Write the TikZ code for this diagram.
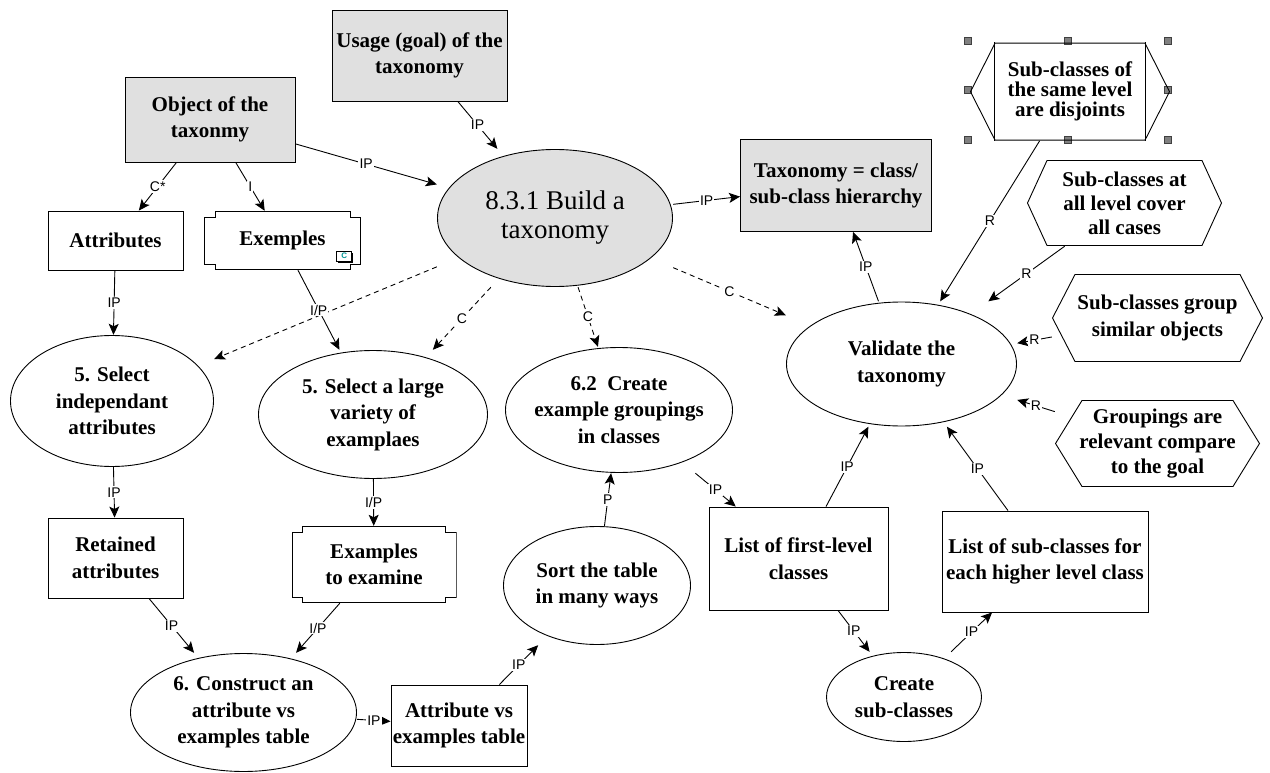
\documentclass[tikz,border=0pt]{standalone}
\usepackage{fontspec}
\setmainfont{Liberation Serif}
\setsansfont{Liberation Sans}
\usetikzlibrary{arrows.meta,calc,shadows,backgrounds}

\definecolor{fillgray}{RGB}{224,224,224}
\definecolor{handlegray}{RGB}{128,128,128}
\definecolor{icontext}{RGB}{0,150,150}

\tikzset{
  pen/.style={line width=0.9pt},
  txt/.style={rectangle, inner sep=0pt, align=center,
    font=\fontsize{21}{26.5}\selectfont\bfseries},
  sz/.style 2 args={minimum width=#1, minimum height=#2},
  rbox/.style={txt, draw, pen},
  gbox/.style={rbox, fill=fillgray},
  % ellipse inscribed in the node's rectangle (links stop at the rectangle)
  oval/.style={txt, path picture={
    \draw[pen, fill=#1] let \p1=(path picture bounding box.north east),
      \p2=(path picture bounding box.center) in
      (\p2) ellipse [x radius=\x1-\x2-0.5pt, y radius=\y1-\y2-0.5pt];}},
  oval/.default=white,
  % hexagon inscribed in the node's rectangle
  hexa/.style={txt, path picture={
    \draw[pen] let \p1=(path picture bounding box.north east),
      \p2=(path picture bounding box.south west),
      \p3=(path picture bounding box.center) in
      (\x2+0.5pt,\y3) -- (\x2+#1,\y1-0.5pt) -- (\x1-#1,\y1-0.5pt) --
      (\x1-0.5pt,\y3) -- (\x1-#1,\y2+0.5pt) -- (\x2+#1,\y2+0.5pt) -- cycle;}},
  hexa/.default=23pt,
  % rectangle with square notches cut out of its corners
  notched/.style={txt, path picture={
    \draw[pen] let \p1=(path picture bounding box.north east),
      \p2=(path picture bounding box.south west) in
      (\x2+11pt,\y1-0.5pt) -- (\x1-11pt,\y1-0.5pt) -- (\x1-11pt,\y1-6pt) --
      (\x1-0.5pt,\y1-6pt) -- (\x1-0.5pt,\y2+6pt) -- (\x1-11pt,\y2+6pt) --
      (\x1-11pt,\y2+0.5pt) -- (\x2+11pt,\y2+0.5pt) -- (\x2+11pt,\y2+6pt) --
      (\x2+0.5pt,\y2+6pt) -- (\x2+0.5pt,\y1-6pt) -- (\x2+11pt,\y1-6pt) -- cycle;}},
  link/.style={pen, -{Stealth[length=11pt,width=10pt,inset=2.5pt]}},
  dlink/.style={link, dash pattern=on 5pt off 4pt},
  lbl/.style={fill=white, inner sep=1.2pt, font=\sffamily\fontsize{14}{14}\selectfont},
  handle/.style={rectangle, draw=black!75, fill=handlegray, line width=0.6pt,
    minimum size=7pt, inner sep=0pt},
  icon/.style={rectangle, draw, fill=white, line width=0.6pt, inner sep=0pt,
    minimum width=15pt, minimum height=10pt, text=icontext,
    font=\sffamily\bfseries\fontsize{8}{8}\selectfont,
    drop shadow={shadow xshift=1.5pt, shadow yshift=-1.5pt, fill=black, opacity=1}},
}

\begin{document}
\begin{tikzpicture}[x=1pt, y=-1pt]
\useasboundingbox (0,0) rectangle (1270,773);

% ---- nodes ----
\node[gbox, sz={175}{91}] (usage) at (419.5,55.5) {Usage (goal) of the\\taxonomy};
\node[gbox, sz={170}{85}] (object) at (210,119.5) {Object of the\\taxonmy};
\node[rbox, sz={135}{59}] (attributes) at (115.5,240.5) {Attributes};
\node[notched, sz={157}{59}] (exemples) at (282.5,240.5) {Exemples};
\node[icon] (exicon) at ($(exemples.south east)+(-17,-14)$) {C};
\node[oval=fillgray, sz={236}{138}, font=\fontsize{27}{29}\selectfont\mdseries]
  (build) at (555,218) {8.3.1 Build a\\taxonomy};
\node[gbox, sz={191}{92}] (taxonomy) at (836,185.5) {Taxonomy = class/\\sub-class hierarchy};

\node[hexa=25pt, sz={200}{98}, font=\fontsize{21}{20}\selectfont\bfseries]
  (hex1) at (1070,91.7) {Sub-classes of\\the same level\\are disjoints};
\draw[pen] ($(hex1.north west)+(25,0)$) -- ($(hex1.south west)+(25,0)$);
\draw[pen] ($(hex1.north east)+(-25,0)$) -- ($(hex1.south east)+(-25,0)$);
\begin{scope}[on background layer]
  \foreach \a/\b in {north west/hnw, north/hn, north east/hne, west/hw,
                     east/he, south west/hsw, south/hs, south east/hse}
    \node[handle] (\b) at ($(hex1.\a)+(-2,-1.5)$) {};
\end{scope}
\node[hexa=20pt, sz={195}{86}, font=\fontsize{21}{24}\selectfont\bfseries]
  (hex2) at (1124.5,203) {Sub-classes at\\all level cover\\all cases};
\node[hexa=23pt, sz={211}{88}] (hex3) at (1157.5,318) {Sub-classes group\\similar objects};
\node[hexa=27pt, sz={205}{87}, font=\fontsize{21}{25}\selectfont\bfseries]
  (hex4) at (1157.5,443.5) {Groupings are\\relevant compare\\to the goal};

\node[oval, sz={231}{125}] (validate) at (901.5,364) {Validate the\\taxonomy};
\node[oval, sz={204}{132}] (selind) at (112,401) {5. Select\\independant\\attributes};
\node[oval, sz={230}{129}] (sellarge) at (373,414.5) {5. Select a large\\variety of\\examplaes};
\node[oval, sz={228}{126}] (create62) at (619,410) {6.2~~Create\\example groupings\\in classes};

\node[rbox, sz={135}{80}] (retained) at (115.5,558) {Retained\\attributes};
\node[notched, sz={165}{77}] (toexamine) at (374,564.5) {Examples\\to examine};
\node[oval, sz={188}{119}] (sort) at (597,585.5) {Sort the table\\in many ways};
\node[rbox, sz={179}{103}] (listfirst) at (798.5,558.5) {List of first-level\\classes};
\node[rbox, sz={206}{101}] (listsub) at (1045,561.5) {List of sub-classes for\\each higher level class};
\node[oval, sz={156}{90}] (createsub) at (904,697) {Create\\sub-classes};
\node[oval, sz={227}{119}] (construct) at (243.5,712.5) {6. Construct an\\attribute vs\\examples table};
\node[rbox, sz={136}{81}] (attrvs) at (459,725.5) {Attribute vs\\examples table};

% ---- links ----
\draw[dlink] (build) -- (selind);
\draw[dlink] (build) -- node[lbl]{C} (sellarge);
\draw[dlink] (build) -- node[lbl]{C} (create62);
\draw[dlink] (build) -- node[lbl]{C} (validate);

\draw[link] (usage) -- node[lbl]{IP} (build);
\draw[link] (object) -- node[lbl]{IP} (build);
\draw[link] (object) -- node[lbl]{C*} (attributes);
\draw[link] (object) -- node[lbl]{I} (exemples);
\draw[link] (build) -- node[lbl]{IP} (taxonomy);
\draw[link] (attributes) -- node[lbl]{IP} (selind);
\draw[link] (exemples) -- node[lbl]{I/P} (sellarge);
\draw[link] (validate) -- node[lbl]{IP} (taxonomy);
\draw[link] (hex1) -- node[lbl]{R} (validate);
\draw[link] (hex2) -- node[lbl]{R} (validate);
\draw[link] (hex3) -- node[lbl]{R} (validate);
\draw[link] (hex4) -- node[lbl]{R} (validate);
\draw[link] (selind) -- node[lbl]{IP} (retained);
\draw[link] (sellarge) -- node[lbl]{I/P} (toexamine);
\draw[link] (create62) -- node[lbl]{IP} (listfirst);
\draw[link] (sort) -- node[lbl]{P} (create62);
\draw[link] (listfirst) -- node[lbl]{IP} (validate);
\draw[link] (listsub) -- node[lbl]{IP} (validate);
\draw[link] (listfirst) -- node[lbl]{IP} (createsub);
\draw[link] (createsub) -- node[lbl]{IP} (listsub);
\draw[link] (retained) -- node[lbl]{IP} (construct);
\draw[link] (toexamine) -- node[lbl]{I/P} (construct);
\draw[link] (construct) -- node[lbl]{IP} (attrvs);
\draw[link] (attrvs) -- node[lbl]{IP} (sort);
\end{tikzpicture}
\end{document}
